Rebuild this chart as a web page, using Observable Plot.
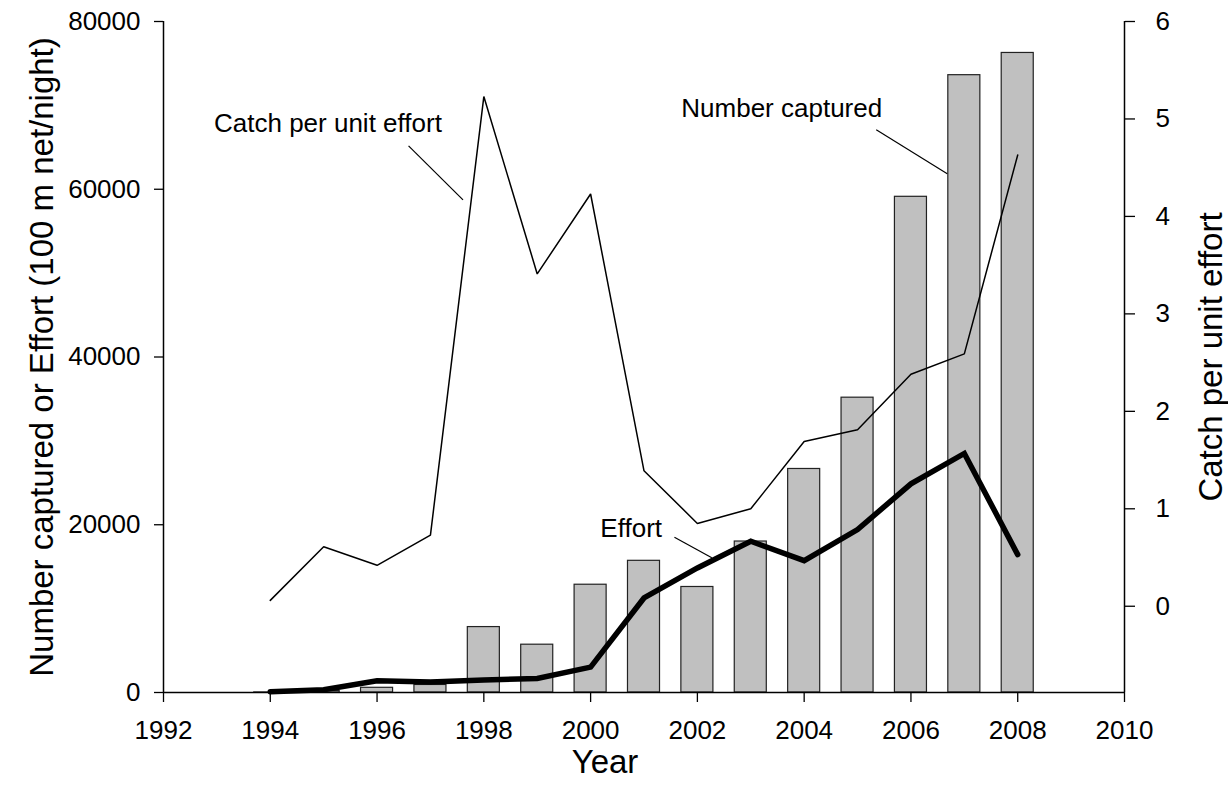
<!DOCTYPE html>
<html>
<head>
<meta charset="utf-8">
<script src="https://cdn.jsdelivr.net/npm/d3@7"></script>
<script src="https://cdn.jsdelivr.net/npm/@observablehq/plot@0.6"></script>
<style>
  html, body { margin: 0; padding: 0; background: #fff; }
  #chart svg { display: block; }
</style>
</head>
<body>
<div id="chart"></div>
<script>
// ---- Data ----
const years    = [1994, 1995, 1996, 1997, 1998, 1999, 2000, 2001, 2002, 2003, 2004, 2005, 2006, 2007, 2008];
const captured = [6, 190, 560, 900, 7800, 5700, 12850, 15700, 12580, 18000, 26650, 35150, 59100, 73600, 76250];
const effort   = [100, 320, 1400, 1240, 1500, 1670, 3030, 11270, 14850, 18030, 15720, 19430, 24880, 28500, 16440];
const cpue     = [0.06, 0.61, 0.42, 0.73, 5.23, 3.41, 4.23, 1.39, 0.85, 1.00, 1.69, 1.81, 2.38, 2.59, 4.63];

const xTicks     = [1992, 1994, 1996, 1998, 2000, 2002, 2004, 2006, 2008, 2010];
const leftTicks  = [0, 20000, 40000, 60000, 80000];
const cpueTicks  = [0, 1, 2, 3, 4, 5, 6];

// Scale domains
const leftMax = 80000;
const cpueMin = -0.885, cpueMax = 6;
const toLeft = c => (c - cpueMin) * leftMax / (cpueMax - cpueMin);
const fromLeft = v => v * (cpueMax - cpueMin) / leftMax + cpueMin;

const rows = years.map((year, i) => ({year, captured: captured[i], effort: effort[i], cpue: cpue[i]}));

const font = "'Liberation Sans', Arial, Helvetica, sans-serif";

const chart = Plot.plot({
  width: 1228,
  height: 806,
  marginLeft: 163,
  marginRight: 104,
  marginTop: 21,
  marginBottom: 114,
  x: {domain: [1992, 2010], label: null},
  y: {domain: [0, leftMax], label: null},
  style: {fontFamily: font, fontSize: "26px", background: "#fff", color: "#000"},
  marks: [
    // bars: number captured
    Plot.rectY(rows, {
      x1: d => d.year - 0.3, x2: d => d.year + 0.3, y: "captured",
      fill: "#c0c0c0", stroke: "#222", strokeWidth: 1.2
    }),
    // catch per unit effort (right axis)
    Plot.line(rows, {x: "year", y: d => toLeft(d.cpue), stroke: "#000", strokeWidth: 1.5, strokeLinejoin: "miter"}),
    // effort (left axis)
    Plot.line(rows, {x: "year", y: "effort", stroke: "#000", strokeWidth: 5.5, strokeLinejoin: "miter", strokeMiterlimit: 4}),

    // axis lines
    Plot.ruleX([1992], {y1: 0, y2: leftMax, stroke: "#000", strokeWidth: 1.5}),
    Plot.ruleX([2010], {y1: 0, y2: leftMax, stroke: "#000", strokeWidth: 1.5}),
    Plot.ruleY([0], {x1: 1992, x2: 2010, stroke: "#000", strokeWidth: 1.5}),

    // axes
    Plot.axisX(xTicks, {anchor: "bottom", tickSize: 10, tickPadding: 18, tickFormat: d => String(d), fontSize: 26, label: null, strokeWidth: 1.3}),
    Plot.axisY(leftTicks, {anchor: "left", tickSize: 9, tickPadding: 14, tickFormat: d => String(d), fontSize: 26, label: null, strokeWidth: 1.3}),
    Plot.axisY(cpueTicks.map(toLeft), {anchor: "right", tickSize: 10, tickPadding: 21, tickFormat: d => String(Math.round(fromLeft(d))), fontSize: 26, label: null, strokeWidth: 1.3}),

    // axis titles
    Plot.text(["Number captured or Effort (100 m net/night)"], {text: d => d, frameAnchor: "left", textAnchor: "middle", lineAnchor: "middle", dx: -121, rotate: -90, fontSize: 33, fill: "#000"}),
    Plot.text(["Catch per unit effort"], {text: d => d, frameAnchor: "right", textAnchor: "middle", lineAnchor: "middle", dx: 87, rotate: -90, fontSize: 33, fill: "#000"}),
    Plot.text(["Year"], {text: d => d, frameAnchor: "bottom", textAnchor: "middle", lineAnchor: "middle", dx: -39, dy: 70, fontSize: 33, fill: "#000"}),

    // annotations
    Plot.text(["Catch per unit effort"], {text: d => d, x: 1995.08, y: 67875, fontSize: 26, fill: "#000"}),
    Plot.link([0], {x1: 1996.59, y1: 65180, x2: 1997.61, y2: 58740, stroke: "#000", strokeWidth: 1.2}),
    Plot.text(["Number captured"], {text: d => d, x: 2003.58, y: 69627, fontSize: 26, fill: "#000"}),
    Plot.link([0], {x1: 2005.35, y1: 67087, x2: 2006.68, y2: 61842, stroke: "#000", strokeWidth: 1.2}),
    Plot.text(["Effort"], {text: d => d, x: 2000.76, y: 19517, fontSize: 26, fill: "#000"}),
    Plot.link([0], {x1: 2001.57, y1: 18516, x2: 2002.27, y2: 16060, stroke: "#000", strokeWidth: 1.2})
  ]
});

document.getElementById("chart").appendChild(chart);
</script>
</body>
</html>
